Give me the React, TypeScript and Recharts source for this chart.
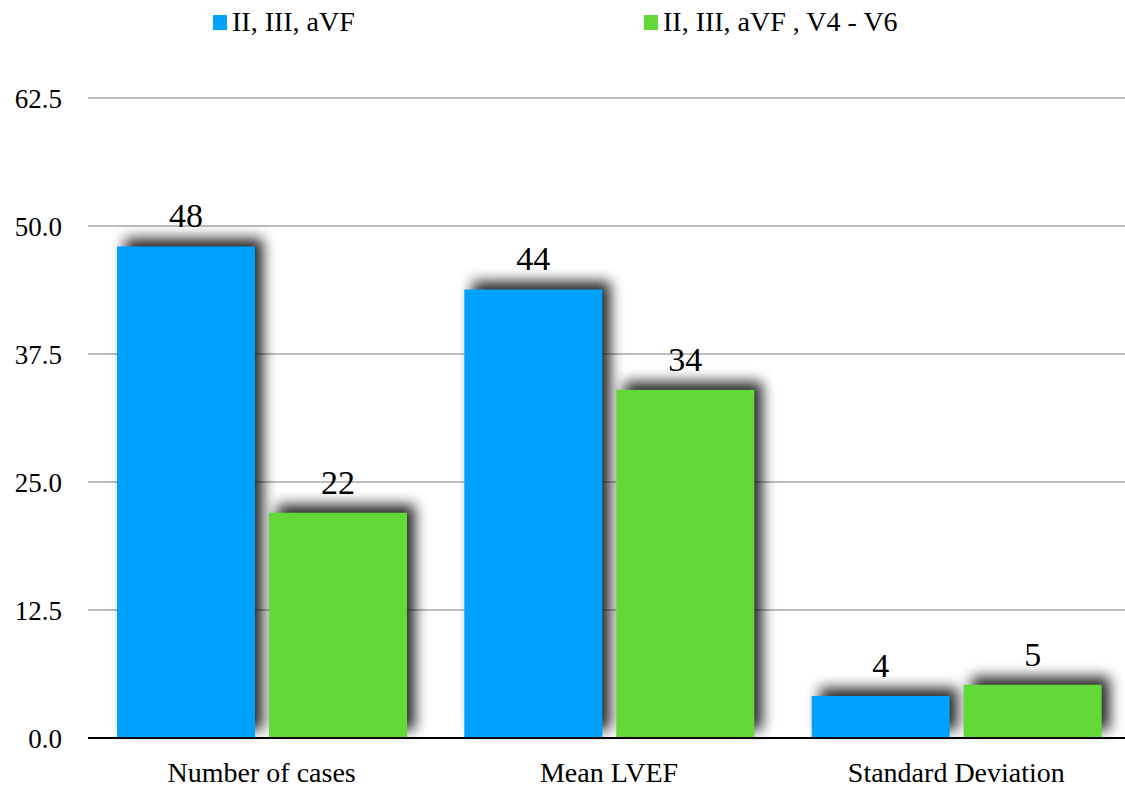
import React from 'react';
import { BarChart, Bar, XAxis, YAxis, CartesianGrid, Legend, LabelList } from 'recharts';

const categories = ['Number of cases', 'Mean LVEF', 'Standard Deviation'];
const inferiorLeads = [48, 43.8, 4.1];
const inferiorLateralLeads = [22, 34, 5.2];
const seriesNames = ['II, III, aVF', 'II, III, aVF , V4 - V6'];
const yTicks = [0, 12.5, 25, 37.5, 50, 62.5];

const BLUE = '#00A2FF';
const GREEN = '#62D937';
const FONT = 'Liberation Serif';

const data = categories.map((name, i) => ({
  name,
  a: inferiorLeads[i],
  b: inferiorLateralLeads[i],
}));

const ShadowBar = (props: any) => {
  const { x, y, width, height, fill } = props;
  if (!height || height <= 0) return null;
  return (
    <g>
      <rect
        x={x}
        y={y}
        width={width}
        height={height}
        fill="#000"
        opacity={0.85}
        transform="translate(8,-8)"
        filter="url(#shadowBlur)"
      />
      <rect x={x} y={y} width={width} height={height} fill={fill} />
    </g>
  );
};

const LegendContent = () => {
  const items = [
    { label: seriesNames[0], color: BLUE },
    { label: seriesNames[1], color: GREEN },
  ];
  return (
    <div style={{ position: 'relative', height: 40, fontFamily: FONT, fontSize: 28, color: '#000' }}>
      {items.map((it, i) => (
        <div
          key={it.label}
          style={{
            position: 'absolute',
            left: i === 0 ? 213 : 644,
            top: 6,
            display: 'flex',
            alignItems: 'center',
            whiteSpace: 'nowrap',
          }}
        >
          <span style={{ display: 'inline-block', width: 14, height: 15, background: it.color, marginRight: 5 }} />
          <span style={{ fontFamily: FONT }}>{it.label}</span>
        </div>
      ))}
    </div>
  );
};

const labelStyle = { fill: '#000', fontSize: 34, fontFamily: FONT };

export default function App() {
  return (
    <div style={{ position: 'absolute', left: 0, top: 0, width: 1125, height: 787, overflow: 'hidden', background: '#fff', fontFamily: FONT }}>
      <BarChart
        width={1130}
        height={787}
        data={data}
        margin={{ top: 58, right: 0, bottom: 0, left: 0 }}
        barSize={138}
        barGap={14}
        style={{ fontFamily: FONT }}
      >
        <defs>
          <filter id="shadowBlur" x="-40%" y="-40%" width="180%" height="180%">
            <feGaussianBlur stdDeviation={7} />
          </filter>
        </defs>
        <Legend
          verticalAlign="top"
          height={40}
          wrapperStyle={{ top: 0, left: 0, width: 1130, height: 40 }}
          content={<LegendContent />}
        />
        <CartesianGrid vertical={false} stroke="#BDBDBD" strokeWidth={2} />
        <XAxis
          dataKey="name"
          height={49}
          tickLine={false}
          axisLine={{ stroke: '#000', strokeWidth: 2 }}
          tickMargin={18}
          tick={{ fill: '#000', fontSize: 28, fontFamily: FONT }}
        />
        <YAxis
          width={88}
          domain={[0, 62.5]}
          ticks={yTicks}
          interval={0}
          axisLine={false}
          tickLine={false}
          tickMargin={20}
          tickFormatter={(v: number) => v.toFixed(1)}
          tick={{ fill: '#000', fontSize: 27, fontFamily: FONT }}
        />
        <Bar dataKey="a" name={seriesNames[0]} fill={BLUE} shape={ShadowBar} isAnimationActive={false}>
          <LabelList
            dataKey="a"
            position="top"
            offset={19}
            fontFamily={FONT}
            formatter={(v: any) => Math.round(Number(v)).toString()}
            style={labelStyle}
          />
        </Bar>
        <Bar dataKey="b" name={seriesNames[1]} fill={GREEN} shape={ShadowBar} isAnimationActive={false}>
          <LabelList
            dataKey="b"
            position="top"
            offset={19}
            fontFamily={FONT}
            formatter={(v: any) => Math.round(Number(v)).toString()}
            style={labelStyle}
          />
        </Bar>
      </BarChart>
    </div>
  );
}
